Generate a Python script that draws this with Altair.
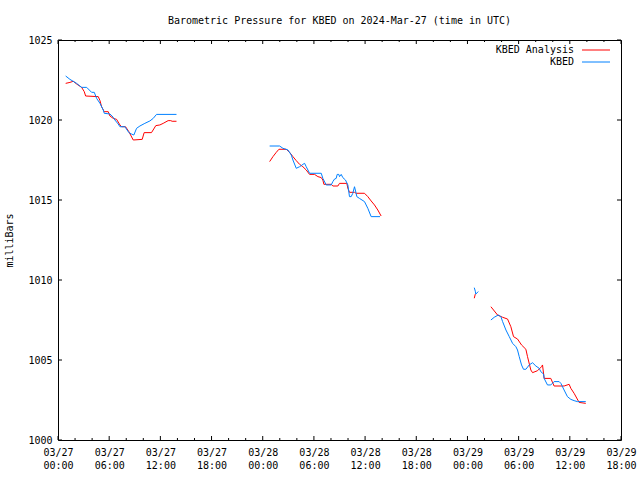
import altair as alt
import pandas as pd

# Hours since 2024-03-27 00:00 UTC, pressure in millibars
ana_a_h = [0.90, 1.40, 1.79, 2.18, 2.77, 3.08, 3.24, 4.72, 4.92, 5.11, 5.42, 5.89, 6.09, 6.48, 6.87,
           7.26, 7.45, 7.92, 8.31, 8.82, 9.87, 10.10, 10.96, 11.47, 11.94, 12.33, 12.91, 13.22, 13.38, 13.89]
ana_a_p = [1022.29, 1022.35, 1022.42, 1022.25, 1022.04, 1021.77, 1021.50, 1021.46, 1021.21, 1020.83,
           1020.52, 1020.52, 1020.25, 1020.10, 1020.04, 1019.69, 1019.58, 1019.58, 1019.27, 1018.75,
           1018.79, 1019.21, 1019.21, 1019.65, 1019.69, 1019.79, 1019.96, 1019.96, 1019.92, 1019.92]
ana_b_h = [24.81, 25.20, 25.59, 25.90, 26.76, 27.15, 27.54, 27.93, 28.32, 28.71, 29.10, 29.49, 30.08,
           30.47, 30.86, 31.05, 31.17, 32.03, 32.22, 32.81, 33.00, 33.86, 33.98, 34.17, 34.76, 34.95,
           35.93, 36.32, 36.71, 37.10, 37.49, 37.88]
ana_b_p = [1017.40, 1017.71, 1017.98, 1018.17, 1018.17, 1017.98, 1017.71, 1017.46, 1017.23, 1017.08,
           1016.875, 1016.60, 1016.60, 1016.46, 1016.40, 1016.25, 1015.98, 1015.98, 1015.875, 1015.875,
           1016.04, 1016.04, 1015.73, 1015.48, 1015.48, 1015.42, 1015.42, 1015.21, 1014.94, 1014.69,
           1014.375, 1014.0]
ana_c_h = [48.80, 48.92]
ana_c_p = [1008.86, 1009.12]
ana_d_h = [50.75, 51.53, 52.12, 52.70, 53.09, 53.40, 53.87, 54.34, 54.85, 55.04, 55.43, 55.63, 56.21,
           56.68, 56.80, 56.99, 57.77, 58.16, 59.33, 59.92, 60.12, 60.50, 61.09, 61.87]
ana_d_p = [1008.33, 1007.81, 1007.67, 1007.56, 1007.08, 1006.46, 1006.31, 1005.94, 1005.67, 1005.21,
           1004.375, 1004.21, 1004.33, 1004.58, 1004.69, 1003.85, 1003.85, 1003.375, 1003.375, 1003.48,
           1003.23, 1002.92, 1002.35, 1002.29]

obs_a_h = [0.90, 1.40, 2.18, 2.77, 3.36, 3.94, 4.25, 4.53, 4.92, 5.31, 5.42, 6.09, 6.48, 6.67, 7.06,
           7.26, 7.84, 8.31, 8.62, 8.89, 9.21, 9.60, 10.18, 10.77, 11.16, 11.55, 13.89]
obs_a_p = [1022.75, 1022.54, 1022.29, 1022.04, 1022.04, 1021.73, 1021.73, 1021.35, 1021.04, 1020.625,
           1020.42, 1020.375, 1020.17, 1020.0, 1019.75, 1019.58, 1019.58, 1019.21, 1019.125, 1019.06,
           1019.48, 1019.625, 1019.79, 1019.94, 1020.10, 1020.35, 1020.35]
obs_b_h = [24.81, 25.98, 26.37, 26.96, 27.35, 27.54, 27.93, 28.32, 28.52, 28.71, 28.91, 29.10, 29.30,
           29.49, 30.86, 31.05, 31.44, 32.03, 32.22, 32.42, 32.61, 32.73, 32.92, 33.00, 33.20, 33.39,
           33.70, 33.98, 34.17, 34.37, 34.56, 34.76, 34.95, 35.03, 35.34, 35.93, 36.32, 36.71, 37.75]
obs_b_p = [1018.375, 1018.375, 1018.23, 1018.125, 1017.81, 1017.5, 1016.98, 1017.08, 1017.15, 1017.23,
           1017.29, 1017.08, 1016.875, 1016.67, 1016.67, 1016.35, 1015.94, 1015.94, 1016.15, 1016.31,
           1016.35, 1016.60, 1016.60, 1016.46, 1016.60, 1016.40, 1016.25, 1015.94, 1015.21, 1015.21,
           1015.42, 1015.83, 1015.42, 1015.21, 1015.10, 1014.90, 1014.48, 1013.96, 1013.96]
obs_c_h = [48.80, 48.92, 48.98, 49.27]
obs_c_p = [1009.52, 1009.30, 1009.12, 1009.28]
obs_d_h = [50.75, 51.14, 51.61, 51.92, 52.12, 52.51, 52.90, 53.29, 53.68, 53.87, 54.07, 54.34, 54.57,
           54.85, 55.24, 55.63, 56.02, 56.41, 56.60, 56.92, 56.99, 57.38, 57.77, 58.16, 58.75, 58.95,
           59.33, 59.72, 60.12, 60.50, 60.89, 61.87]
obs_d_p = [1007.50, 1007.67, 1007.81, 1007.71, 1007.40, 1006.875, 1006.46, 1006.04, 1005.83, 1005.625,
           1005.21, 1004.69, 1004.42, 1004.42, 1004.69, 1004.83, 1004.625, 1004.48, 1004.27, 1004.125,
           1003.85, 1003.44, 1003.44, 1003.65, 1003.65, 1003.54, 1003.125, 1002.71, 1002.54, 1002.46,
           1002.40, 1002.40]

series_names = ["KBED Analysis", "KBED"]
series_colors = ["#ff0000", "#0080ff"]
x_major = list(range(0, 67, 6))
x_minor = [h for h in range(0, 67, 2) if h % 6 != 0]
y_major = [1000, 1005, 1010, 1015, 1020, 1025]

FONT = "DejaVu Sans Mono"

rows = []
segs = [
    ("KBED Analysis", "a1", ana_a_h, ana_a_p), ("KBED Analysis", "a2", ana_b_h, ana_b_p),
    ("KBED Analysis", "a3", ana_c_h, ana_c_p), ("KBED Analysis", "a4", ana_d_h, ana_d_p),
    ("KBED", "o1", obs_a_h, obs_a_p), ("KBED", "o2", obs_b_h, obs_b_p),
    ("KBED", "o3", obs_c_h, obs_c_p), ("KBED", "o4", obs_d_h, obs_d_p),
]
for name, seg, hs, ps in segs:
    for i, (h, p) in enumerate(zip(hs, ps)):
        rows.append({"series": name, "seg": seg, "h": h, "p": p, "i": i})
df = pd.DataFrame(rows)

xscale = alt.Scale(domain=[0, 66], nice=False, zero=False)
yscale = alt.Scale(domain=[1000, 1025], nice=False, zero=False)

label_expr = ("['03/' + (27 + floor(datum.value / 24)), "
              "(datum.value % 24 < 10 ? '0' : '') + (datum.value % 24) + ':00']")

xaxis = alt.Axis(
    values=x_major, labelExpr=label_expr, title=None, domain=False, ticks=False, grid=False,
    labelFont=FONT, labelFontSize=10, labelColor="black", labelBaseline="top",
    labelPadding=7, labelLineHeight=13, labelFlush=False, labelOverlap=False)
yaxis = alt.Axis(
    values=y_major, format="d", title="milliBars", domain=False, ticks=False, grid=False,
    labelFont=FONT, labelFontSize=10, labelColor="black", labelPadding=6,
    titleFont=FONT, titleFontSize=10, titleFontWeight="normal", titleColor="black",
    titleX=-49, titleY=200, titleAngle=-90, titleAlign="center", titleBaseline="middle")

lines = alt.Chart(df).mark_line(strokeWidth=1, interpolate="linear").encode(
    x=alt.X("h:Q", scale=xscale, axis=xaxis),
    y=alt.Y("p:Q", scale=yscale, axis=yaxis),
    color=alt.Color("series:N", scale=alt.Scale(domain=series_names, range=series_colors), legend=None),
    detail="seg:N",
    order="i:Q",
)

xmaj = pd.DataFrame({"t": x_major})
xmin = pd.DataFrame({"t": x_minor})
ymaj = pd.DataFrame({"v": y_major})

def xtick(d, y1, y2):
    return alt.Chart(d).mark_rule(color="black", strokeWidth=1).encode(
        x=alt.X("t:Q", scale=xscale, axis=xaxis), y=alt.value(y1), y2=alt.value(y2))

def ytick(x1, x2):
    return alt.Chart(ymaj).mark_rule(color="black", strokeWidth=1).encode(
        y=alt.Y("v:Q", scale=yscale, axis=yaxis), x=alt.value(x1), x2=alt.value(x2))

ticks = [xtick(xmaj, 400, 396), xtick(xmaj, 0, 4), xtick(xmin, 400, 398), xtick(xmin, 0, 2),
         ytick(0, 4), ytick(563, 559)]

one = alt.Data(values=[{}])
legend_layers = []
for k, (name, col) in enumerate(zip(series_names, series_colors)):
    ypos = 10 + 12 * k
    legend_layers.append(alt.Chart(one).mark_text(
        text=name, font=FONT, fontSize=10, align="right", baseline="middle", color="black"
    ).encode(x=alt.value(516), y=alt.value(ypos)))
    legend_layers.append(alt.Chart(one).mark_rule(color=col, strokeWidth=1).encode(
        x=alt.value(524), x2=alt.value(552), y=alt.value(ypos)))

chart = alt.layer(lines, *ticks, *legend_layers).properties(
    width=563, height=400,
    title=alt.Title("Barometric Pressure for KBED on 2024-Mar-27 (time in UTC)",
                    font=FONT, fontSize=10, fontWeight="normal", color="black",
                    anchor="middle", offset=9),
    autosize=alt.AutoSizeParams(type="none"),
    padding={"left": 58, "top": 40, "right": 19, "bottom": 40},
    background="white",
).configure_view(stroke="black", strokeWidth=1)

chart.save("out.html", embed_options={"renderer": "svg", "actions": False})
